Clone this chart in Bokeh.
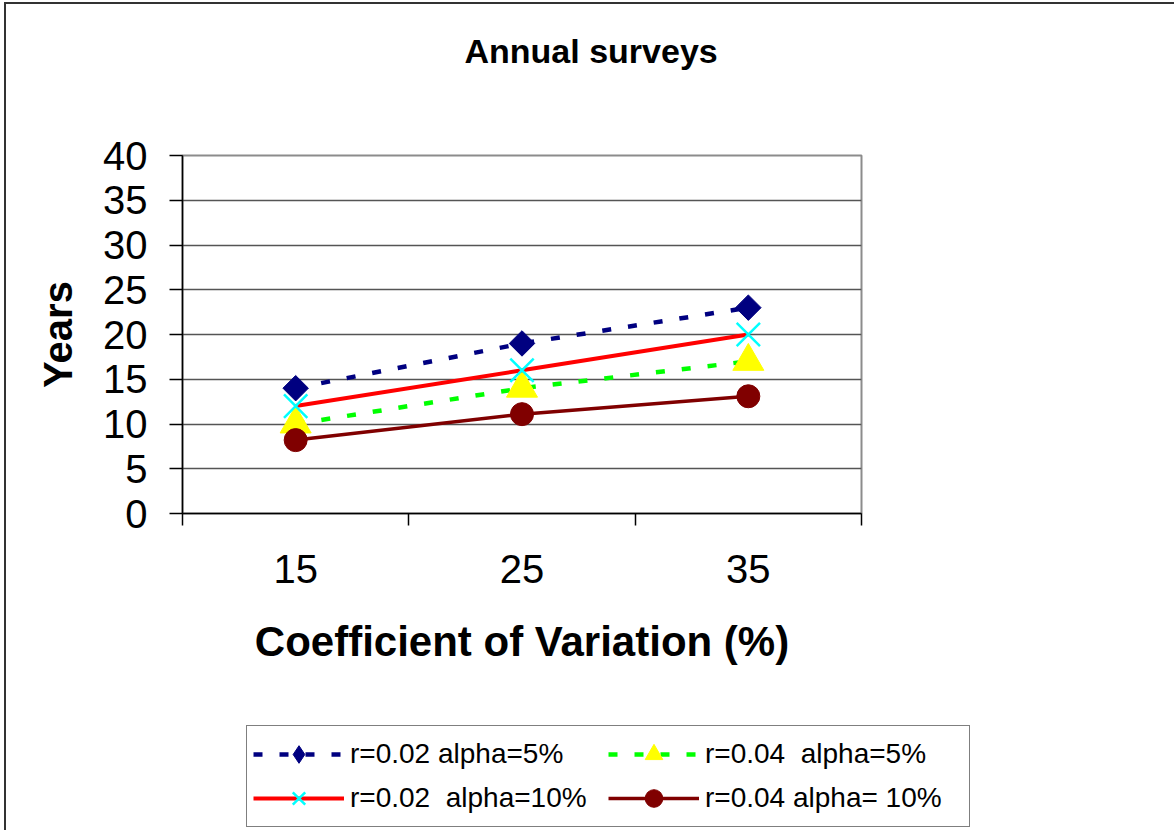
import math
from bokeh.plotting import figure
from bokeh.layouts import column
from bokeh.models import Range1d, FixedTicker, Legend, LegendItem, Title
from bokeh.embed import file_html
from bokeh.resources import INLINE

# ---- data ----
categories = ["15", "25", "35"]
years_r002_a5 = [14, 19, 23]
years_r004_a5 = [10, 14, 17]
years_r002_a10 = [12, 16, 20]
years_r004_a10 = [8.2, 11.1, 13.1]
y_ticks = [0, 5, 10, 15, 20, 25, 30, 35, 40]
series_labels = ["r=0.02 alpha=5%", "r=0.04  alpha=5%",
                 "r=0.02  alpha=10%", "r=0.04 alpha= 10%"]
title_text = "Annual surveys"
x_title = "Coefficient of Variation (%)"
y_title = "Years"

FONT = "Liberation Sans"

x_pos = [i + 0.5 for i in range(len(categories))]
boundaries = list(range(len(categories) + 1))

styles = [
    dict(values=years_r002_a5, line=dict(line_color="#000080", line_width=4.5, line_dash="9 17"),
         marker=dict(marker="square", angle=math.pi / 4, size=18,
                     fill_color="#000080", line_color="#000080"),
         legend_marker=dict(marker="diamond", fill_color="#000080", line_color="#000080")),
    dict(values=years_r004_a5, line=dict(line_color="#00ff00", line_width=4.5, line_dash="9 17"),
         marker=dict(marker="triangle", size=31, fill_color="#ffff00", line_color="#ffff00"),
         legend_marker=dict(marker="triangle", fill_color="#ffff00", line_color="#ffff00")),
    dict(values=years_r002_a10, line=dict(line_color="#ff0000", line_width=4),
         marker=dict(marker="x", size=33, line_color="#00ffff", line_width=2.5),
         legend_marker=dict(marker="x", line_color="#00ffff", line_width=2.5)),
    dict(values=years_r004_a10, line=dict(line_color="#800000", line_width=3.5),
         marker=dict(marker="circle", size=23, fill_color="#800000", line_color="#800000"),
         legend_marker=dict(marker="circle", fill_color="#800000", line_color="#800000")),
]

# ---------------- main chart ----------------
p = figure(frame_width=679, frame_height=358,
           x_range=Range1d(0, len(categories)), y_range=Range1d(y_ticks[0], y_ticks[-1]),
           output_backend="svg", toolbar_location=None,
           min_border_left=176, min_border_top=151,
           min_border_right=313, min_border_bottom=207)
p.background_fill_color = "white"
p.border_fill_color = "white"
p.outline_line_color = "#8c8c8c"
p.outline_line_width = 2

p.xgrid.visible = False
p.ygrid.ticker = FixedTicker(ticks=y_ticks)
p.ygrid.grid_line_color = "#555555"
p.ygrid.grid_line_width = 1.5

xa = p.xaxis[0]
xa.ticker = FixedTicker(ticks=x_pos, minor_ticks=boundaries)
xa.major_label_overrides = {x: c for x, c in zip(x_pos, categories)}
xa.major_tick_out = 0
xa.major_tick_in = 0
xa.minor_tick_out = 12
xa.minor_tick_in = 0
xa.minor_tick_line_color = "black"
xa.minor_tick_line_width = 1.5
xa.axis_line_color = "black"
xa.axis_line_width = 1.5
xa.major_label_standoff = 29
xa.major_label_text_font = FONT
xa.major_label_text_font_size = "40px"
xa.major_label_text_color = "black"
xa.axis_label = x_title
xa.axis_label_text_font = FONT
xa.axis_label_text_font_size = "42px"
xa.axis_label_text_font_style = "bold"
xa.axis_label_text_color = "black"
xa.axis_label_standoff = 32

ya = p.yaxis[0]
ya.ticker = FixedTicker(ticks=y_ticks)
ya.major_tick_out = 13
ya.major_tick_in = 0
ya.minor_tick_out = 0
ya.minor_tick_in = 0
ya.major_tick_line_color = "black"
ya.major_tick_line_width = 1.5
ya.axis_line_color = "black"
ya.axis_line_width = 1.5
ya.major_label_standoff = 22
ya.major_label_text_font = FONT
ya.major_label_text_font_size = "40px"
ya.major_label_text_color = "black"
ya.axis_label = y_title
ya.axis_label_text_font = FONT
ya.axis_label_text_font_size = "40px"
ya.axis_label_text_font_style = "bold"
ya.axis_label_text_color = "black"
ya.axis_label_standoff = 20

for st in styles:
    p.line(x_pos, st["values"], **st["line"])
    p.scatter(x_pos, st["values"], **st["marker"])

# spacer (closest to the frame) then the real title, further out
p.add_layout(Title(text=" ", text_font_size="10px", standoff=46), "above")
p.add_layout(Title(text=title_text, align="left", offset=282, vertical_align="top",
                   standoff=50, text_font=FONT, text_font_size="34px",
                   text_font_style="bold", text_color="black"), "above")

# ---------------- legend strip ----------------
# the same series, drawn outside this strip's visible range, feed the legend glyphs
q = figure(width=1168, height=110, min_border=0,
           x_range=Range1d(-20, -10), y_range=Range1d(-20, -10),
           x_axis_type=None, y_axis_type=None,
           output_backend="svg", toolbar_location=None)
q.outline_line_color = None
q.background_fill_color = "white"
q.border_fill_color = "white"
q.grid.visible = False

for fig in (p, q):
    try:
        fig.frame_align = False
    except Exception:
        pass

items = []
for st, lbl in zip(styles, series_labels):
    lr = q.line(x_pos, st["values"], **st["line"])
    sr = q.scatter(x_pos, st["values"], **st["legend_marker"])
    items.append(LegendItem(label=lbl, renderers=[lr, sr]))

legend = Legend(
    items=items, location=(240, 3), orientation="horizontal", ncols=2,
    glyph_width=91, glyph_height=44, label_standoff=6, spacing=0, padding=6,
    margin=0, label_width=258,
    label_text_font=FONT, label_text_font_size="28px", label_text_color="black",
    border_line_color="black", border_line_width=1.5,
    background_fill_color="white", background_fill_alpha=1.0)
q.add_layout(legend, "center")

layout = column(p, q, spacing=0)
layout.margin = (2, 0, 0, 4)
layout.styles = {"border-left": "2px solid #333333", "border-top": "2px solid #333333"}

open("out.html", "w").write(file_html(layout, INLINE))
